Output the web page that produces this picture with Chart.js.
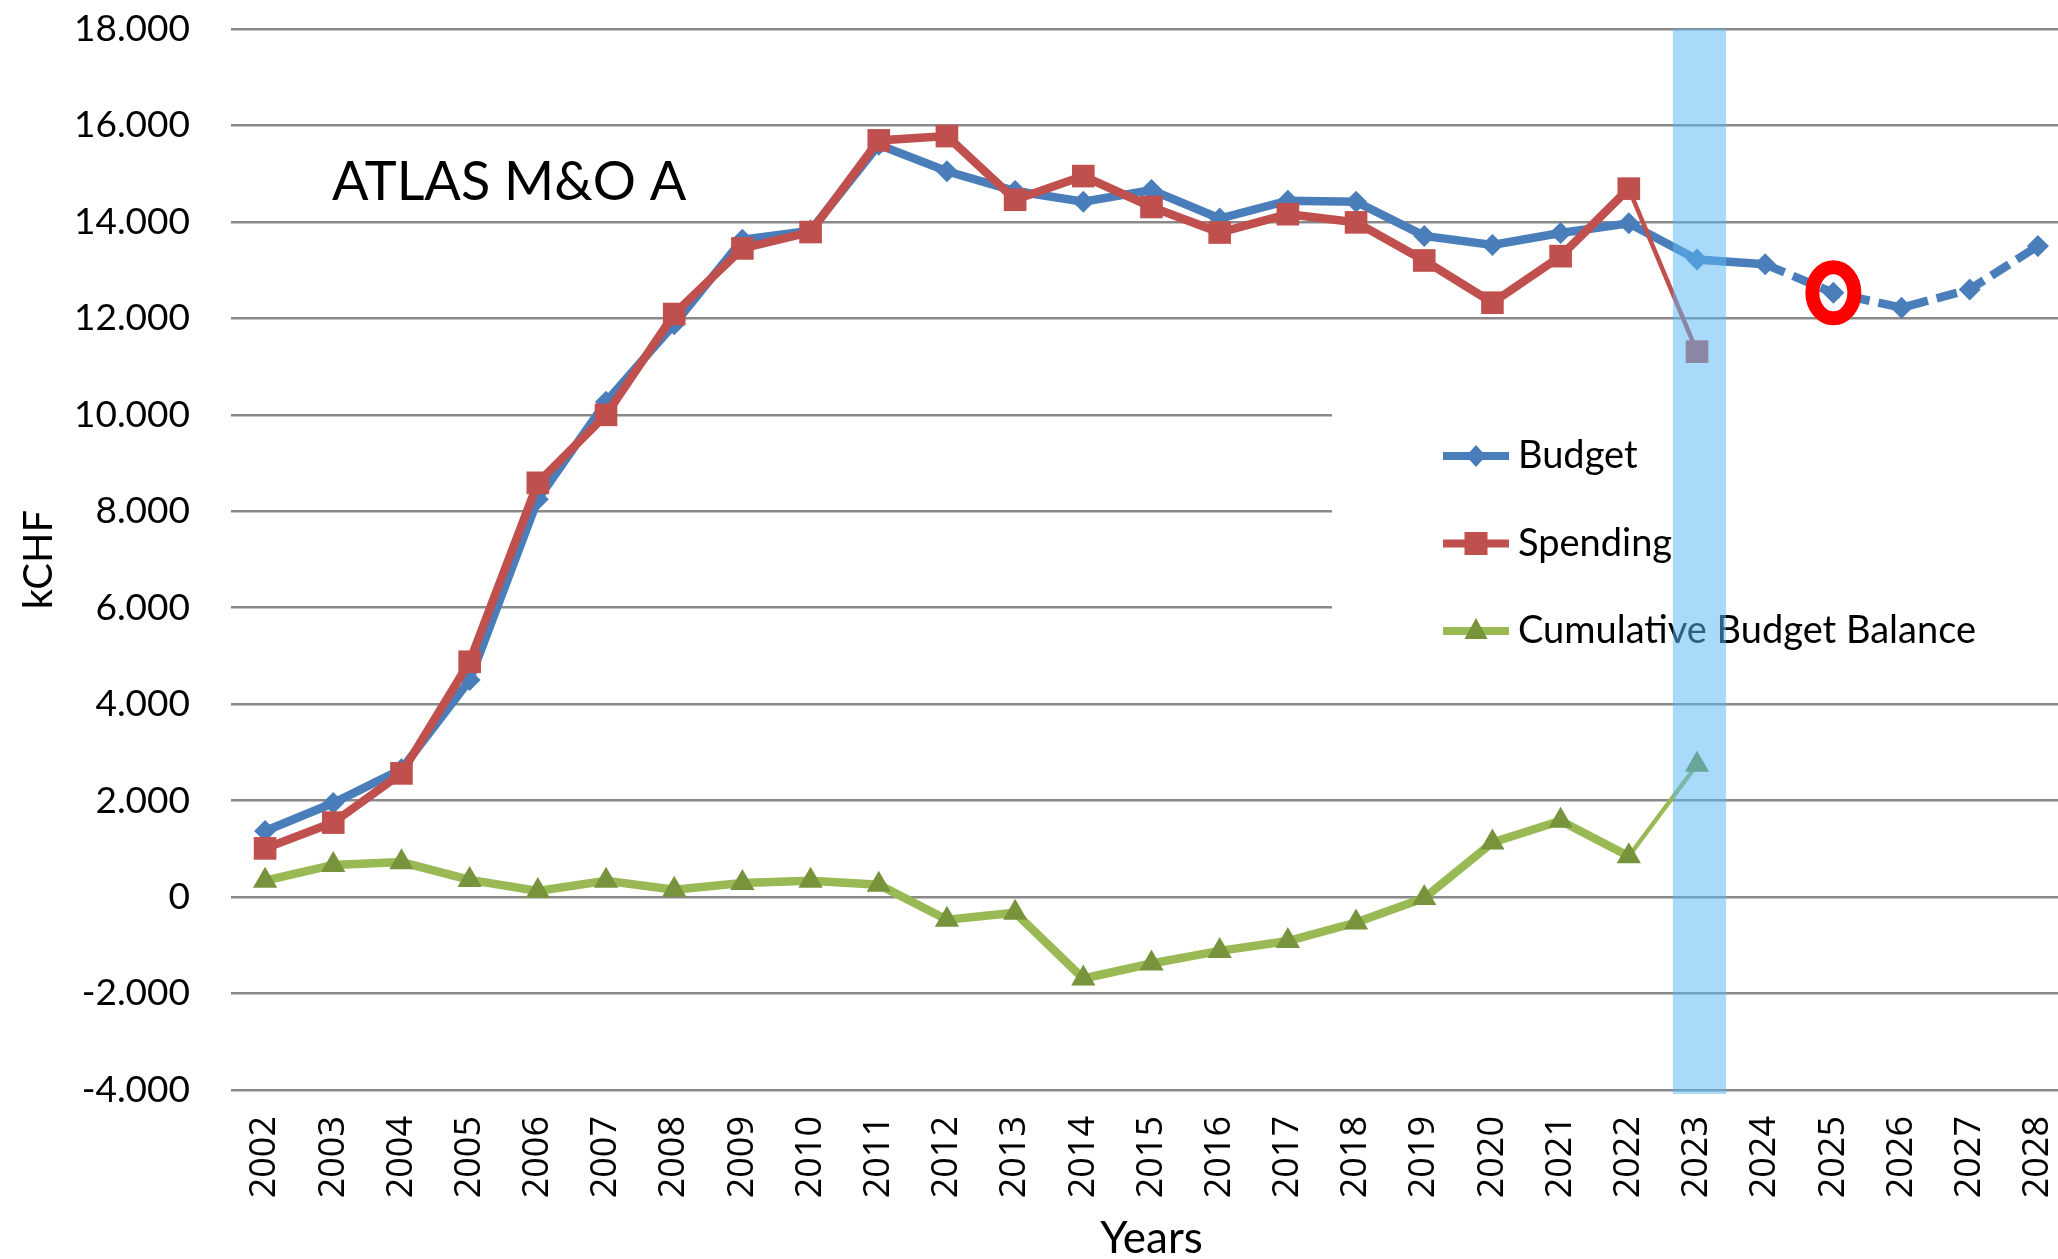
<!DOCTYPE html>
<html>
<head>
<meta charset="utf-8">
<script src="https://cdn.jsdelivr.net/npm/chart.js"></script>
<style>
  html, body { margin: 0; padding: 0; overflow: hidden; background: #fff; }
  #janela { width: 2058px; height: 1259px; overflow: hidden; }
  #caixa { width: 2072px; height: 1259px; position: relative; }
</style>
</head>
<body>
<div id="janela"><div id="caixa"><canvas id="grafico"></canvas></div></div>
<script>
const anos = ['2002', '2003', '2004', '2005', '2006', '2007', '2008', '2009', '2010', '2011', '2012', '2013', '2014',
  '2015', '2016', '2017', '2018', '2019', '2020', '2021', '2022', '2023', '2024', '2025', '2026', '2027', '2028'];

const budget = [1370, 1950, 2650, 4500, 8250, 10270, 11880, 13630, 13820, 15600, 15050, 14640, 14420,
  14660, 14070, 14440, 14420, 13710, 13520, 13770, 13970, 13220, 13120, 12530, 12220, 12600, 13500];

const spending = [1010, 1545, 2565, 4880, 8590, 10000, 12090, 13450, 13790, 15690, 15780, 14460, 14950,
  14310, 13780, 14160, 13990, 13200, 12325, 13290, 14690, 11310];

const balance = [340, 667, 725, 356, 126, 340, 151, 290, 340, 257, -470, -325, -1688,
  -1377, -1116, -911, -528, -20, 1133, 1582, 847, 2744];

const yTickLabels = ['-4.000', '-2.000', '0', '2.000', '4.000', '6.000', '8.000', '10.000',
  '12.000', '14.000', '16.000', '18.000'];

const anoDestaque = '2023';
const anoCirculo = '2025';
const ultimoReal = spending.length - 1; // 2023
const inicioPrevisao = anos.indexOf('2024');

const azul = '#4A7EBB';
const vermelho = '#C0504D';
const verde = '#98B954';
const verdeEscuro = '#77933C';

const legendaItens = [
  { texto: 'Budget', cor: azul, marca: 'diamond' },
  { texto: 'Spending', cor: vermelho, marca: 'square' },
  { texto: 'Cumulative Budget Balance', cor: verde, marca: 'triangle', corMarca: verdeEscuro }
];

function desenhaMarca(ctx, tipo, x, y, cor) {
  ctx.fillStyle = cor;
  ctx.beginPath();
  if (tipo === 'diamond') {
    ctx.moveTo(x, y - 11); ctx.lineTo(x + 10, y); ctx.lineTo(x, y + 11); ctx.lineTo(x - 10, y);
  } else if (tipo === 'square') {
    ctx.rect(x - 11.5, y - 11.5, 23, 23);
  } else {
    ctx.moveTo(x, y - 13); ctx.lineTo(x + 11.5, y + 8); ctx.lineTo(x - 11.5, y + 8);
  }
  ctx.closePath();
  ctx.fill();
}

const extras = {
  id: 'extras',
  beforeDatasetsDraw(chart) {
    const ctx = chart.ctx;
    // caixa branca da legenda por cima das linhas de grade
    ctx.save();
    ctx.fillStyle = '#fff';
    ctx.fillRect(1332, 380, chart.width - 1332, 310);
    ctx.restore();
  },
  afterDatasetsDraw(chart) {
    const ctx = chart.ctx;
    const area = chart.chartArea;
    const x = chart.scales.x;
    ctx.save();

    // titulo dentro do grafico
    ctx.fillStyle = '#000';
    ctx.font = '54px Lato';
    ctx.textAlign = 'left';
    ctx.textBaseline = 'alphabetic';
    ctx.fillText('ATLAS M&O A', 332, 200);

    // legenda
    ctx.font = '38px Lato';
    legendaItens.forEach((item, i) => {
      const ly = 456 + i * 87.5;
      ctx.strokeStyle = item.cor;
      ctx.lineWidth = 8;
      ctx.beginPath();
      ctx.moveTo(1443, ly);
      ctx.lineTo(1509, ly);
      ctx.stroke();
      desenhaMarca(ctx, item.marca, 1476, ly, item.corMarca || item.cor);
      ctx.fillStyle = '#000';
      ctx.fillText(item.texto, 1518, ly + 12);
    });

    // faixa azul no ano atual
    const idx = anos.indexOf(anoDestaque);
    const passo = x.getPixelForValue(1) - x.getPixelForValue(0);
    const cx = x.getPixelForValue(idx) + 2.5;
    const larg = passo * 0.78;
    ctx.fillStyle = 'rgba(90, 185, 245, 0.52)';
    ctx.fillRect(cx - larg / 2, area.top, larg, area.bottom - area.top + 4);

    // circulo vermelho
    const ponto = chart.getDatasetMeta(1).data[anos.indexOf(anoCirculo)];
    ctx.strokeStyle = '#FF0000';
    ctx.lineWidth = 14;
    ctx.beginPath();
    ctx.ellipse(ponto.x, ponto.y, 21, 25.5, 0, 0, Math.PI * 2);
    ctx.stroke();

    ctx.restore();
  }
};

const grafico = document.getElementById('grafico');

new Chart(grafico, {
  type: 'line',
  data: {
    labels: anos,
    datasets: [
      {
        label: 'Spending',
        data: spending,
        order: 0,
        borderColor: vermelho,
        backgroundColor: vermelho,
        borderWidth: 8.5,
        pointStyle: 'rect',
        pointRadius: 16,
        pointBorderWidth: 0,
        tension: 0,
        segment: {
          borderWidth: c => c.p1DataIndex === ultimoReal ? 4.5 : undefined
        }
      },
      {
        label: 'Budget',
        data: budget,
        order: 1,
        borderColor: azul,
        backgroundColor: azul,
        borderWidth: 8.5,
        pointStyle: 'rectRot',
        pointRadius: 11,
        pointBorderWidth: 0,
        tension: 0,
        segment: {
          borderDash: c => c.p0DataIndex >= inicioPrevisao ? [21, 9] : undefined
        }
      },
      {
        label: 'Cumulative Budget Balance',
        data: balance,
        order: 2,
        borderColor: verde,
        backgroundColor: verdeEscuro,
        pointBackgroundColor: verdeEscuro,
        pointBorderColor: verdeEscuro,
        borderWidth: 8.5,
        pointStyle: 'triangle',
        pointRadius: 14,
        pointBorderWidth: 0,
        tension: 0,
        segment: {
          borderWidth: c => c.p1DataIndex === ultimoReal ? 4.5 : undefined
        }
      }
    ]
  },
  options: {
    responsive: true,
    maintainAspectRatio: false,
    animation: false,
    layout: { autoPadding: false, padding: { left: 0, top: 29, right: 0, bottom: 0 } },
    plugins: {
      legend: { display: false },
      tooltip: { enabled: false }
    },
    scales: {
      x: {
        offset: true,
        grid: { display: false, drawTicks: false },
        border: { display: false },
        ticks: {
          autoSkip: false,
          minRotation: 90,
          maxRotation: 90,
          padding: 26,
          color: '#000',
          font: { family: 'Open Sans', size: 36 }
        },
        title: {
          display: true,
          text: 'Years',
          color: '#000',
          font: { family: 'Lato', size: 44, lineHeight: 0.9 },
          padding: 0
        },
        afterFit(s) {
          s.height = 169;
          s.paddingLeft = 0;
          s.paddingRight = 0;
        }
      },
      y: {
        min: -4000,
        max: 18000,
        grid: { color: '#898989', lineWidth: 2.5, drawTicks: false },
        border: { display: false },
        ticks: {
          stepSize: 2000,
          padding: 41,
          color: '#000',
          font: { family: 'Lato', size: 37 },
          callback: (v, i) => yTickLabels[i]
        },
        title: {
          display: true,
          text: 'kCHF',
          color: '#000',
          font: { family: 'Lato', size: 40 },
          padding: { top: 15, bottom: 0 }
        },
        afterFit(s) {
          s.width = 231;
          s.paddingTop = 0;
          s.paddingBottom = 0;
        }
      }
    }
  },
  plugins: [extras]
});
</script>
</body>
</html>
